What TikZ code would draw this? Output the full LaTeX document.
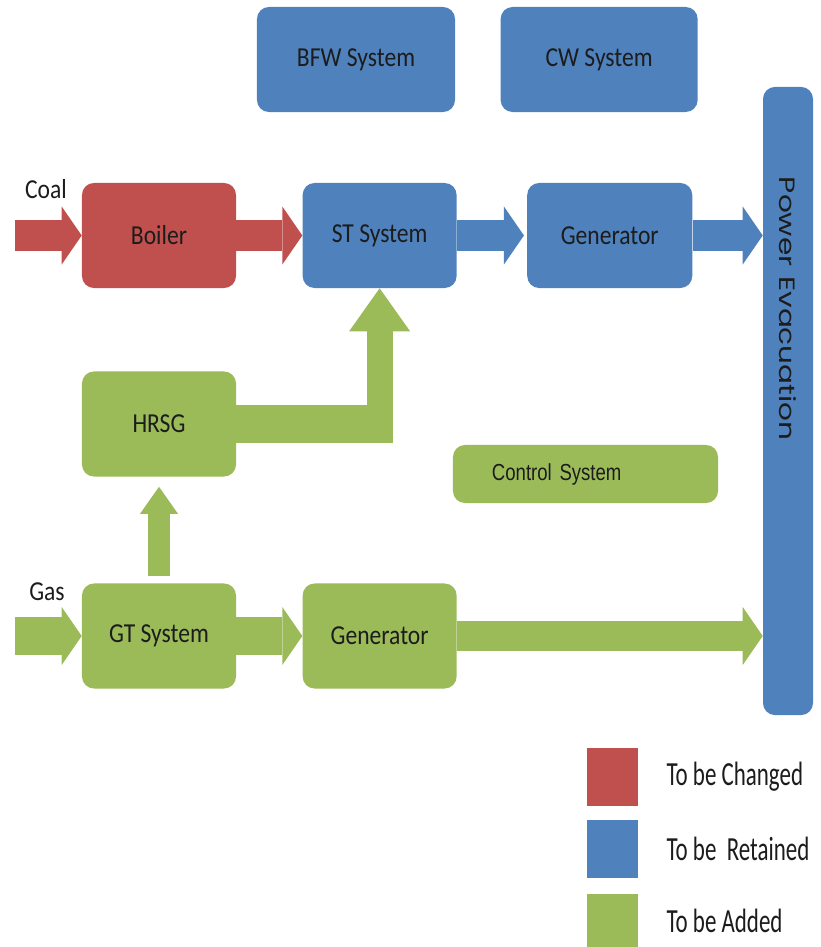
\documentclass[tikz,border=0pt]{standalone}
\usepackage{fontspec}
\usepackage{graphicx}
\setmainfont{Carlito}[FakeStretch=0.86]
\newfontfamily\keyfont{Carlito}[FakeStretch=0.68]
\newfontfamily\ctrlfont{Liberation Sans}[FakeStretch=0.8]
\newfontfamily\pefont{Poppins}
\usetikzlibrary{arrows.meta, positioning}

\definecolor{chgred}{HTML}{C0504D}
\definecolor{retblue}{HTML}{4F81BD}
\definecolor{addgreen}{HTML}{9BBB59}
\definecolor{txtdark}{HTML}{1C1C1C}

\begin{document}
\begin{tikzpicture}[
  x=0.025cm, y=-0.025cm,
  unit/.style     = {rectangle, rounded corners=0.3cm, inner sep=0pt,
                     minimum width=3.85cm, minimum height=2.625cm,
                     text=txtdark, font=\fontsize{19.5}{22}\selectfont},
  changed/.style  = {unit, fill=chgred},
  retained/.style = {unit, fill=retblue},
  added/.style    = {unit, fill=addgreen},
  flow/.style     = {line width=0.75cm,
                     -{Triangle[length=0.5cm, width=1.45cm, line width=0pt]}},
  flowup/.style   = {line width=0.55cm,
                     -{Triangle[length=0.675cm, width=0.95cm, line width=0pt]}},
  flowbend/.style = {line width=0.65cm,
                     -{Triangle[length=1.075cm, width=1.525cm, line width=0pt]}},
  inlbl/.style    = {text=txtdark, inner sep=0pt,
                     font=\fontsize{19.5}{22}\selectfont},
  key/.style      = {rectangle, inner sep=0pt,
                     minimum width=1.275cm, minimum height=1.45cm},
  keylbl/.style   = {text=txtdark, inner sep=0pt,
                     font=\keyfont\fontsize{24}{26}\selectfont}
]
\useasboundingbox (0,0) rectangle (821,947);

%-- top row ---------------------------------------------------------------
\node[retained, minimum width=4.95cm] (bfw) at (356,59.5) {BFW System};
\node[retained, minimum width=4.925cm, right=1.125cm of bfw] (cw) {CW System};

%-- steam side ------------------------------------------------------------
\node[changed] (boiler) at (159,235.5) {Boiler};
\node[retained, right=1.65cm of boiler] (st) {ST System};
\node[retained, minimum width=4.125cm, right=1.75cm of st] (gentop) {Generator};

\node[retained, rotate=-90, minimum width=15.7cm, minimum height=1.25cm,
      text width=15.7cm, align=left,
      font=\pefont\fontsize{21}{24}\selectfont] (pe) at (788,401)
  {\hspace*{2.25cm}\scalebox{1}[0.75]{Power Evacuation}};

%-- gas side --------------------------------------------------------------
\node[added] (hrsg) at (159,424) {HRSG};
\node[added, minimum width=6.625cm, minimum height=1.45cm,
      text width=6.625cm, align=left,
      font=\ctrlfont\fontsize{16.5}{20}\selectfont] (ctrl) at (585.5,474)
  {\hspace*{0.975cm}Control System};
\node[added] (gt) at (159,636) {GT System};
\node[added, right=1.65cm of gt] (genbot) {Generator};

%-- legend ----------------------------------------------------------------
\node[key, fill=chgred] (kchg) at (612.5,777) {};
\node[key, fill=retblue, below=0.325cm of kchg] (kret) {};
\node[key, fill=addgreen, minimum height=1.35cm, below=0.4cm of kret] (kadd) {};
\node[keylbl, right=0.7cm of kchg] (lchg) {To be Changed};
\node[keylbl, right=0.7cm of kret] (lret) {To be~ Retained};
\node[keylbl, right=0.7cm of kadd] (ladd) {To be Added};

%-- flows -----------------------------------------------------------------
\coordinate (coalin) at (15,235.5);
\node[inlbl] (coal) at (46,189) {Coal};
\draw[chgred, flow] (coalin) -- (boiler.west);
\draw[chgred, flow] (boiler) -- (st);
\draw[retblue, flow] (st) -- ([xshift=-0.075cm]gentop.west);
\draw[retblue, flow] (gentop) -- (gentop -| pe.south);

\coordinate (gasin) at (15,636);
\node[inlbl] (gas) at (47,592) {Gas};
\draw[addgreen, flow, line width=0.95cm] (gasin) -- (gt.west);
\draw[addgreen, flow, line width=0.95cm] (gt) -- (genbot);
\draw[addgreen, flow] (genbot) -- (genbot -| pe.south);

\draw[addgreen, flowup] ([yshift=0.175cm]gt.north) -- ([yshift=-0.25cm]hrsg.south);

\coordinate (elbow) at (hrsg.east -| st.south);
\draw[addgreen, line width=0.95cm] (hrsg.east) -- ([xshift=0.325cm]elbow);
\draw[addgreen, flowbend] (elbow) -- (st.south);

\end{tikzpicture}
\end{document}
